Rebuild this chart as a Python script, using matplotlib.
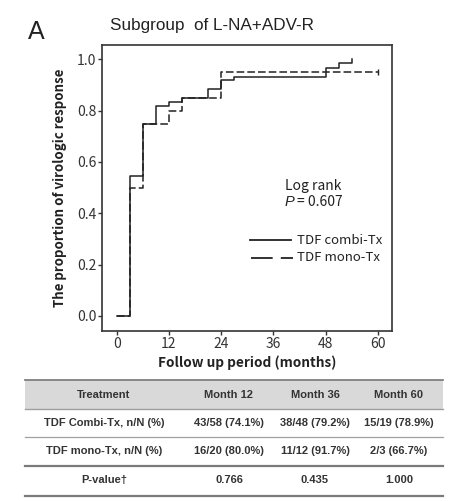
import matplotlib
matplotlib.use("Agg")
import matplotlib.pyplot as plt
from matplotlib.lines import Line2D

# 生存曲線のデータ
combi_t = [0, 3, 6, 9, 12, 15, 21, 24, 27, 48, 51, 54]
combi_p = [0, 0.545, 0.75, 0.818, 0.832, 0.85, 0.883, 0.918, 0.932, 0.967, 0.984, 1.0]
mono_t = [0, 3, 6, 12, 15, 24, 60]
mono_p = [0, 0.50, 0.75, 0.80, 0.85, 0.952, 0.952]

x_ticks = [0, 12, 24, 36, 48, 60]
y_ticks = [0.0, 0.2, 0.4, 0.6, 0.8, 1.0]
legend_labels = ["TDF combi-Tx", "TDF mono-Tx"]

# 表のデータ
table_header = ["Treatment", "Month 12", "Month 36", "Month 60"]
row_combi = ["TDF Combi-Tx, n/N (%)", "43/58 (74.1%)", "38/48 (79.2%)", "15/19 (78.9%)"]
row_mono = ["TDF mono-Tx, n/N (%)", "16/20 (80.0%)", "11/12 (91.7%)", "2/3 (66.7%)"]
row_pval = ["P-value\u2020", "0.766", "0.435", "1.000"]

W, H = 464, 501
fig = plt.figure(figsize=(W / 100, H / 100), dpi=100)
kfont = ["Noto Sans CJK KR", "DejaVu Sans"]
afont = ["Liberation Sans", "DejaVu Sans"]
dark = "#222222"

ax = fig.add_axes([102.5 / W, 1 - 330.5 / H, 289.2 / W, 286 / H])
ax.step(combi_t, combi_p, where="post", color=dark, lw=1.1)
ax.step(mono_t, mono_p, where="post", color=dark, lw=1.1, dashes=(5, 2))
ax.plot(mono_t[-1:], mono_p[-1:], marker="|", color=dark, ms=4, mew=1)
ax.set_xlim(-3.25, 63.2)
ax.set_ylim(-0.057, 1.058)
ax.set_xticks(x_ticks)
ax.set_yticks(y_ticks)
ax.set_xticklabels([str(t) for t in x_ticks], family=kfont, fontsize=10, color="#333333")
ax.set_yticklabels([f"{v:.1f}" for v in y_ticks], family=kfont, fontsize=10, color="#333333")
ax.tick_params(direction="out", length=3, width=1, color="#333333", pad=1.5)
for s in ax.spines.values():
    s.set_linewidth(1.2)
    s.set_color("#333333")

# 重ね描き用の座標（ピクセル）
ov = fig.add_axes([0, 0, 1, 1], facecolor="none")
ov.set_xlim(0, W)
ov.set_ylim(H, 0)
ov.axis("off")

ov.text(28, 39, "A", family=afont, fontsize=18, color=dark, ha="left", va="baseline")
ov.text(110, 30, "Subgroup  of L-NA+ADV-R", family=afont, fontsize=12.3, color=dark,
        ha="left", va="baseline")
ov.text(247, 363, "Follow up period (months)", family=kfont, fontsize=9.8, fontweight="bold",
        color=dark, ha="center", va="center")
ov.text(60, 187.5, "The proportion of virologic response", family=kfont, fontsize=9.6,
        fontweight="bold", color=dark, ha="center", va="center", rotation=90)

ov.text(285, 186, "Log rank", family=kfont, fontsize=10, color=dark, ha="left", va="center")
ov.text(285, 202.5, "P", family=afont, fontsize=10.5, color=dark, style="italic",
        ha="left", va="center")
ov.text(297, 202, "= 0.607", family=kfont, fontsize=10, color=dark, ha="left", va="center")

# 凡例
ov.add_line(Line2D([250, 291], [240, 240], color=dark, lw=1.3))
ov.add_line(Line2D([251, 293], [257.5, 257.5], color=dark, lw=1.3, dashes=(12, 4.5)))
ov.text(297.5, 240, legend_labels[0], family=kfont, fontsize=9.5, color=dark, ha="left", va="center")
ov.text(297.5, 257.5, legend_labels[1], family=kfont, fontsize=9.5, color=dark, ha="left", va="center")

# 表
x0, x1 = 25, 443
col_x = [104, 229, 315, 399]
ov.fill_between([x0, x1], 380, 409, color="#d9d9d9", lw=0)
ov.add_line(Line2D([x0, x1], [380, 380], color="#808080", lw=1.3))
ov.add_line(Line2D([x0, x1], [409, 409], color="#a0a0a0", lw=1.0))
ov.add_line(Line2D([x0, x1], [437, 437], color="#a0a0a0", lw=0.9))
ov.add_line(Line2D([x0, x1], [466, 466], color="#7a7a7a", lw=1.6))
ov.add_line(Line2D([x0, x1], [496, 496], color="#7a7a7a", lw=1.6))

for row, y in zip([table_header, row_combi, row_mono, row_pval], [395, 423, 451, 480]):
    for cx, txt in zip(col_x, row):
        ov.text(cx, y, txt, family=afont, fontsize=8, fontweight="bold", color="#333333",
                ha="center", va="center")

fig.savefig("out.png", dpi=100)
